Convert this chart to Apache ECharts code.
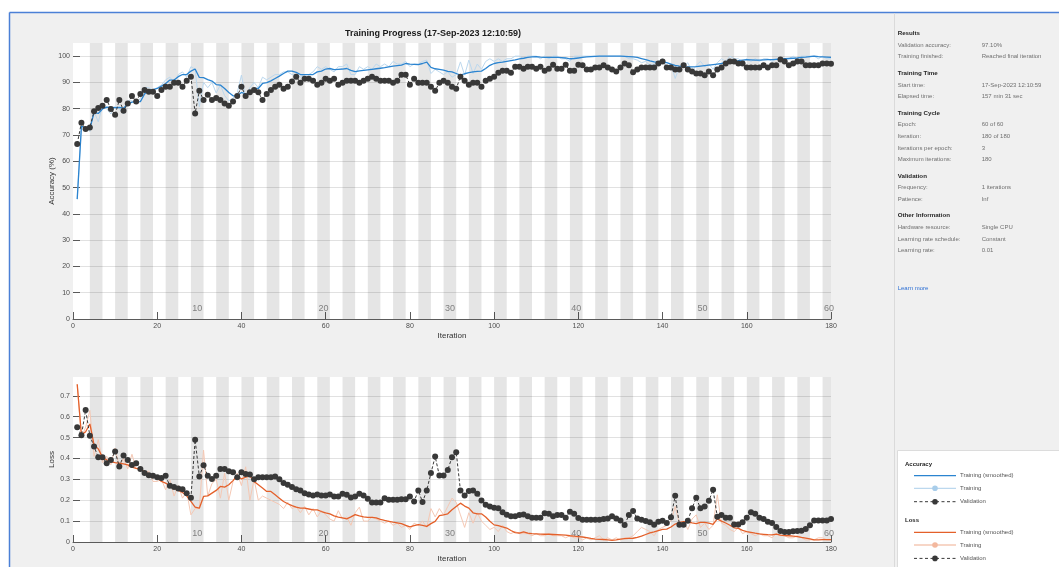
<!DOCTYPE html>
<html>
<head>
<meta charset="utf-8">
<script src="https://cdn.jsdelivr.net/npm/echarts@6/dist/echarts.min.js"></script>
<style>
  html, body { margin: 0; padding: 0; background: #fff; }
  #chart { width: 1059px; height: 567px; }
</style>
</head>
<body>
<div id="chart"></div>
<script>
// ---- training log (one value per iteration, 1..180) ----
const accValidation = [
  66.6,74.7,72.3,72.9,79.0,80.3,81.1,83.3,79.9,77.7,
  83.3,79.2,82.0,84.8,82.7,85.6,87.1,86.5,86.5,84.8,
  87.1,88.4,88.4,89.9,89.9,88.4,90.6,92.2,78.2,86.8,
  83.3,85.3,83.3,84.1,83.3,82.0,81.1,82.7,84.8,88.4,
  84.8,86.3,87.1,86.3,83.3,85.6,87.1,88.4,89.1,87.6,
  88.4,90.4,92.2,89.9,91.4,91.4,90.6,89.1,89.9,91.4,
  90.6,91.4,89.1,89.9,90.6,90.6,90.6,89.9,90.6,91.4,
  92.2,91.4,90.6,90.6,90.6,89.9,90.6,92.9,92.9,89.1,
  91.4,89.9,89.9,89.9,88.4,86.8,89.9,90.6,89.9,88.4,
  87.6,92.2,90.6,89.1,89.9,89.9,88.4,90.6,91.4,92.2,
  93.7,94.4,94.4,93.7,96.0,96.0,95.2,96.0,96.0,95.2,
  96.0,94.4,95.2,96.7,95.2,95.2,96.7,94.4,94.4,96.7,
  96.5,94.9,94.9,95.7,95.7,96.5,95.7,94.9,94.2,95.7,
  97.2,96.5,93.9,94.9,95.7,95.7,95.7,95.7,97.2,98.0,
  95.7,95.7,94.9,94.9,96.5,94.9,94.2,93.4,93.4,92.7,
  94.2,92.7,94.9,95.7,97.2,98.0,98.0,97.2,97.2,95.7,
  95.7,95.7,95.7,96.5,95.7,96.5,96.5,98.7,98.0,96.5,
  97.2,98.0,98.0,96.5,96.5,96.5,96.5,97.2,97.2,97.1
];
const accSmoothed = [
  45.6,73.4,72.5,72.4,78.5,78.2,79.9,80.6,80.5,80.4,
  80.5,80.2,81.8,82.5,82.6,82.7,85.6,87.1,87.3,87.7,
  88.6,89.6,90.9,90.9,92.2,93.0,93.0,94.3,95.1,91.9,
  91.8,91.1,90.5,89.2,89.0,87.7,86.2,84.9,84.9,86.2,
  85.6,86.2,87.7,87.7,89.6,89.9,90.6,91.5,92.4,93.4,
  94.3,94.3,93.8,93.0,93.0,93.0,93.0,94.0,94.3,95.1,
  95.3,94.9,95.0,95.1,95.3,94.6,94.1,94.4,94.6,94.8,
  95.0,95.2,95.4,95.6,95.9,96.2,96.4,96.6,97.2,97.0,
  96.9,96.8,97.2,97.7,95.7,95.2,95.0,94.7,94.2,94.0,
  93.4,92.8,93.3,93.7,94.0,94.2,94.3,95.3,96.5,97.2,
  97.5,97.7,98.0,98.3,98.6,99.0,99.2,99.5,99.7,99.8,
  99.6,99.5,99.5,99.5,99.5,99.4,99.3,99.0,99.1,99.3,
  99.5,99.7,99.8,99.9,100,100,100,100,100,100,
  99.9,99.8,99.7,99.5,99.1,98.7,98.2,97.8,97.6,97.8,
  97.5,97.0,96.5,96.2,96.0,95.9,95.9,96.0,96.2,96.4,
  96.6,96.8,97.0,97.2,97.6,97.9,98.2,98.3,98.5,98.7,
  98.6,98.5,98.5,98.6,98.7,98.7,98.8,98.9,99.0,99.1,
  99.2,99.3,99.5,99.6,99.8,100,99.8,99.7,99.6,99.5
];
const accTraining = [
  45.6,72.0,73.0,71.3,79.0,75.0,81.0,80.0,78.0,81.0,
  80.0,78.0,83.0,83.0,82.0,84.0,88.0,88.0,87.0,88.0,
  89.0,91.0,92.0,90.0,93.0,94.0,92.0,96.0,95.0,80.8,
  90.0,88.0,90.0,86.0,89.0,85.0,83.0,84.0,86.0,92.8,
  84.0,88.0,90.0,88.0,92.0,91.0,92.0,93.0,93.0,94.0,
  94.0,93.0,93.0,92.0,93.0,93.0,94.0,96.0,95.0,96.0,
  95.0,94.0,96.0,96.0,97.0,93.0,93.0,96.0,95.0,96.0,
  95.0,97.0,96.0,97.0,96.0,98.0,97.0,97.0,98.0,96.0,
  97.0,97.0,98.0,98.5,93.4,95.0,94.0,93.0,94.0,92.0,
  93.0,97.8,92.8,98.5,93.4,97.0,95.0,98.0,99.0,98.0,
  99,98,99,99,100,100,99,100,100,100,
  99,100,99,100,100,99,99,98,100,100,
  100,100,100,100,100,100,100,100,100,100,
  100,99,99,98.5,97.5,98,96.5,97,98,99,
  96,97,91.5,96,96,97.5,94,96.5,98,96,
  97,95,97.5,99,98,100,99,99,98,99,
  98,99,98,99,99,98,99,99,99,99,
  100,99,100,100,100,100,99,100,99,99
];
const lossValidation = [
  0.549,0.511,0.632,0.509,0.457,0.406,0.406,0.377,0.393,0.433,
  0.361,0.414,0.393,0.369,0.377,0.349,0.330,0.320,0.317,0.310,
  0.306,0.317,0.269,0.263,0.256,0.253,0.234,0.212,0.489,0.314,
  0.368,0.317,0.302,0.317,0.349,0.350,0.339,0.334,0.310,0.334,
  0.326,0.323,0.301,0.310,0.310,0.310,0.310,0.314,0.301,0.282,
  0.274,0.263,0.253,0.247,0.234,0.228,0.223,0.228,0.223,0.223,
  0.228,0.218,0.218,0.231,0.226,0.213,0.218,0.231,0.223,0.207,
  0.189,0.189,0.189,0.209,0.202,0.202,0.202,0.205,0.205,0.218,
  0.194,0.247,0.191,0.247,0.330,0.409,0.318,0.318,0.345,0.406,
  0.430,0.247,0.223,0.244,0.247,0.231,0.199,0.178,0.170,0.164,
  0.162,0.143,0.131,0.123,0.123,0.129,0.132,0.123,0.116,0.116,
  0.116,0.138,0.135,0.123,0.129,0.129,0.116,0.145,0.135,0.115,
  0.107,0.107,0.107,0.107,0.107,0.110,0.113,0.123,0.113,0.103,
  0.081,0.129,0.148,0.113,0.107,0.100,0.094,0.083,0.097,0.102,
  0.091,0.119,0.221,0.083,0.083,0.102,0.161,0.212,0.161,0.170,
  0.197,0.250,0.121,0.129,0.116,0.116,0.084,0.084,0.094,0.116,
  0.142,0.135,0.116,0.110,0.097,0.091,0.072,0.053,0.048,0.048,
  0.051,0.053,0.054,0.062,0.080,0.103,0.103,0.103,0.103,0.110
];
const lossSmoothed = [
  0.755,0.513,0.528,0.565,0.465,0.446,0.406,0.393,0.385,0.380,
  0.377,0.374,0.369,0.358,0.353,0.349,0.337,0.325,0.317,0.306,
  0.290,0.282,0.269,0.258,0.247,0.237,0.221,0.194,0.167,0.162,
  0.218,0.221,0.234,0.247,0.266,0.263,0.274,0.294,0.317,0.302,
  0.310,0.317,0.290,0.274,0.258,0.242,0.242,0.226,0.210,0.194,
  0.183,0.174,0.167,0.162,0.162,0.158,0.154,0.154,0.146,0.140,
  0.135,0.125,0.119,0.115,0.111,0.120,0.131,0.125,0.120,0.118,
  0.118,0.116,0.108,0.103,0.099,0.095,0.092,0.088,0.080,0.072,
  0.078,0.083,0.080,0.075,0.088,0.099,0.126,0.130,0.135,0.154,
  0.170,0.186,0.172,0.162,0.140,0.135,0.135,0.120,0.099,0.082,
  0.078,0.072,0.067,0.055,0.045,0.043,0.049,0.042,0.040,0.039,
  0.038,0.037,0.037,0.036,0.035,0.034,0.033,0.030,0.028,0.026,
  0.024,0.021,0.017,0.014,0.013,0.012,0.010,0.008,0.010,0.014,
  0.016,0.017,0.018,0.022,0.028,0.036,0.044,0.048,0.055,0.060,
  0.062,0.072,0.086,0.094,0.098,0.097,0.092,0.088,0.094,0.094,
  0.090,0.084,0.111,0.100,0.091,0.080,0.068,0.065,0.056,0.050,
  0.046,0.042,0.039,0.037,0.035,0.034,0.038,0.033,0.031,0.030,
  0.028,0.026,0.022,0.019,0.015,0.010,0.010,0.011,0.011,0.011
];
const lossTraining = [
  0.755,0.50,0.55,0.63,0.41,0.49,0.38,0.41,0.37,0.45,
  0.36,0.40,0.35,0.42,0.35,0.36,0.33,0.34,0.29,0.29,
  0.30,0.25,0.30,0.22,0.27,0.21,0.24,0.13,0.16,0.16,
  0.44,0.22,0.28,0.30,0.21,0.33,0.20,0.29,0.33,0.27,
  0.36,0.20,0.30,0.20,0.22,0.21,0.20,0.19,0.18,0.16,
  0.19,0.16,0.17,0.14,0.17,0.13,0.16,0.12,0.15,0.13,
  0.11,0.10,0.15,0.11,0.12,0.08,0.14,0.167,0.10,0.10,
  0.12,0.11,0.10,0.09,0.10,0.08,0.09,0.07,0.08,0.06,
  0.09,0.08,0.10,0.07,0.16,0.12,0.16,0.13,0.17,0.21,
  0.19,0.13,0.07,0.14,0.09,0.14,0.10,0.08,0.06,0.07,
  0.05,0.08,0.05,0.04,0.05,0.04,0.04,0.04,0.03,0.04,
  0.03,0.03,0.04,0.03,0.03,0.03,0.02,0.03,0.02,0.02,
  0.01,0.02,0.01,0.02,0.03,0.01,0.02,0.01,0.02,0.01,
  0.02,0.02,0.03,0.05,0.07,0.06,0.05,0.03,0.06,0.07,
  0.08,0.10,0.17,0.09,0.10,0.06,0.11,0.13,0.07,0.09,
  0.06,0.08,0.226,0.09,0.08,0.06,0.05,0.07,0.04,0.05,
  0.04,0.03,0.04,0.03,0.03,0.02,0.04,0.03,0.03,0.02,
  0.02,0.03,0.02,0.01,0.01,0.01,0.02,0.02,0.01,0.01
];

// ---- axis ticks and training schedule ----
const accTicks = [0, 10, 20, 30, 40, 50, 60, 70, 80, 90, 100];
const lossTicks = [0, 0.1, 0.2, 0.3, 0.4, 0.5, 0.6, 0.7];
const epochCount = 60;
const iterationsPerEpoch = 3;
const maxIteration = 180;
const epochLabels = [10, 20, 30, 40, 50, 60];

// ---- info panel text ----
const infoSections = [
  { title: 'Results', rows: [
    ['Validation accuracy:', '97.10%'],
    ['Training finished:', 'Reached final iteration']] },
  { title: 'Training Time', rows: [
    ['Start time:', '17-Sep-2023 12:10:59'],
    ['Elapsed time:', '157 min 31 sec']] },
  { title: 'Training Cycle', rows: [
    ['Epoch:', '60 of 60'],
    ['Iteration:', '180 of 180'],
    ['Iterations per epoch:', '3'],
    ['Maximum iterations:', '180']] },
  { title: 'Validation', rows: [
    ['Frequency:', '1 iterations'],
    ['Patience:', 'Inf']] },
  { title: 'Other Information', rows: [
    ['Hardware resource:', 'Single CPU'],
    ['Learning rate schedule:', 'Constant'],
    ['Learning rate:', '0.01']] }
];

const FONT = '"Liberation Sans", Arial, sans-serif';
const BLUE = '#2b84d0', BLUE_LIGHT = '#bcd8ee';
const ORANGE = '#e4602a', ORANGE_LIGHT = '#f5c8b4';
const VAL = '#383838';

const iterations = accValidation.map((_, i) => i + 1);
const pairs = vals => vals.map((v, i) => [iterations[i], v]);

// alternate epochs shaded grey
const epochBands = [];
for (let k = 2; k <= epochCount; k += 2) {
  const start = (k - 1) * iterationsPerEpoch + 1;
  const end = Math.min(k * iterationsPerEpoch + 1, maxIteration);
  epochBands.push([{ xAxis: start }, { xAxis: end }]);
}
const epochCenter = k => (k - 1) * iterationsPerEpoch + 1 + iterationsPerEpoch / 2;

function xAxisCfg(gridIndex) {
  return {
    gridIndex, type: 'value', min: 0, max: maxIteration, interval: 20,
    name: 'Iteration', nameLocation: 'middle', nameGap: 13,
    nameTextStyle: { fontSize: 8, color: '#333', fontFamily: FONT },
    axisLine: { show: true, lineStyle: { color: '#5a5a5a', width: 1 } },
    axisTick: { show: true, inside: true, length: 7, lineStyle: { color: '#5a5a5a' } },
    axisLabel: { fontSize: 7, color: '#4d4d4d', margin: 4, fontFamily: FONT },
    splitLine: { show: false }
  };
}
function yAxisCfg(gridIndex, name, max, ticks) {
  return {
    gridIndex, type: 'value', min: 0, max,
    name, nameLocation: 'middle', nameGap: 17, nameRotate: 90, nameMoveOverlap: false,
    nameTextStyle: { fontSize: 8, color: '#333', fontFamily: FONT },
    axisLine: { show: false },
    axisTick: { show: true, inside: true, length: 7, customValues: ticks,
                lineStyle: { color: '#5a5a5a' } },
    axisLabel: { fontSize: 7, color: '#4d4d4d', margin: 3, fontFamily: FONT,
                 customValues: ticks },
    splitLine: { show: true, lineStyle: { color: '#e1e1e1', width: 1 } }
  };
}

function plotSeries(idx, raw, smooth, val, lightColor, color, labelY) {
  return [
    {
      type: 'line', xAxisIndex: idx, yAxisIndex: idx, z: 1,
      data: pairs(raw), showSymbol: false, symbol: 'none',
      lineStyle: { color: lightColor, width: 1 }, silent: true,
      markArea: { silent: true, itemStyle: { color: 'rgba(0,0,0,0.10)' }, data: epochBands }
    },
    {
      type: 'line', xAxisIndex: idx, yAxisIndex: idx, z: 3,
      data: pairs(smooth), showSymbol: false, symbol: 'none',
      lineStyle: { color, width: 1.3 }, silent: true
    },
    {
      type: 'line', xAxisIndex: idx, yAxisIndex: idx, z: 4,
      data: pairs(val), symbol: 'circle', symbolSize: 6, showSymbol: true,
      itemStyle: { color: VAL }, lineStyle: { color: VAL, width: 1, type: [3, 2] },
      silent: true
    },
    {
      type: 'scatter', xAxisIndex: idx, yAxisIndex: idx, z: 5,
      symbolSize: 1, itemStyle: { color: 'transparent' }, silent: true,
      data: epochLabels.map(k => [epochCenter(k), labelY]),
      label: {
        show: true, position: 'inside', fontSize: 9, color: '#666', fontFamily: FONT,
        formatter: p => String(epochLabels[p.dataIndex])
      }
    }
  ];
}

// ---- graphic: frame, info panel, legend ----
const graphics = [
  { type: 'rect', shape: { x: 0, y: 0, width: 1059, height: 12 }, style: { fill: '#fff' } },
  { type: 'rect', shape: { x: 0, y: 0, width: 9, height: 567 }, style: { fill: '#fff' } },
  { type: 'line', shape: { x1: 9.5, y1: 12.5, x2: 1059, y2: 12.5 }, style: { stroke: '#4b80d6', lineWidth: 1.5 } },
  { type: 'line', shape: { x1: 9.5, y1: 12.5, x2: 9.5, y2: 567 }, style: { stroke: '#4b80d6', lineWidth: 1.5 } },
  { type: 'line', shape: { x1: 894.5, y1: 13, x2: 894.5, y2: 567 }, style: { stroke: '#dadada', lineWidth: 1 } }
];
function text(x, y, str, extra) {
  return Object.assign({ type: 'text', x, y, z: 10,
    style: Object.assign({ text: str, fontSize: 6, fontFamily: FONT, fill: '#707070',
                           verticalAlign: 'middle' }, extra || {}) });
}
(function buildPanel() {
  let y = 33.3;
  infoSections.forEach(sec => {
    graphics.push(text(897.7, y, sec.title, { fontWeight: 'bold', fill: '#262626', fontSize: 6.2 }));
    y += 11.8;
    sec.rows.forEach(r => {
      graphics.push(text(897.7, y, r[0]));
      graphics.push(text(981.7, y, r[1]));
      y += 11.6;
    });
    y += 4.8;
  });
  graphics.push(text(897.7, 288.7, 'Learn more', { fill: '#2d6fd4' }));
})();
(function buildLegend() {
  graphics.push({ type: 'rect', z: 9, shape: { x: 897.5, y: 450.5, width: 162, height: 117 },
                  style: { fill: '#fff', stroke: '#dcdcdc', lineWidth: 1 } });
  const groups = [
    { title: 'Accuracy', y: 464, color: BLUE, light: BLUE_LIGHT, lightDot: '#a8cdea' },
    { title: 'Loss', y: 520.7, color: ORANGE, light: ORANGE_LIGHT, lightDot: '#f3b89e' }
  ];
  groups.forEach(g => {
    graphics.push(text(905, g.y, g.title, { fontWeight: 'bold', fill: '#262626' }));
    const rows = [
      { dy: 11.7, label: 'Training (smoothed)', stroke: g.color, dash: null, dot: null },
      { dy: 24.3, label: 'Training', stroke: g.light, dash: null, dot: g.lightDot },
      { dy: 37.7, label: 'Validation', stroke: VAL, dash: [3, 2.5], dot: VAL }
    ];
    rows.forEach(r => {
      const yy = g.y + r.dy;
      graphics.push({ type: 'line', z: 10, shape: { x1: 914, y1: yy, x2: 956, y2: yy },
        style: { stroke: r.stroke, lineWidth: r.dash ? 1 : 1.3, lineDash: r.dash } });
      if (r.dot) graphics.push({ type: 'circle', z: 11, shape: { cx: 935, cy: yy, r: 2.8 }, style: { fill: r.dot } });
      graphics.push(text(960, yy, r.label, { fill: '#555' }));
    });
  });
})();

const chart = echarts.init(document.getElementById('chart'), null, { renderer: 'canvas' });
chart.setOption({
  animation: false,
  backgroundColor: '#f0f0f0',
  title: {
    text: 'Training Progress (17-Sep-2023 12:10:59)',
    left: 428, top: 24, textAlign: 'center',
    textStyle: { fontSize: 9, fontWeight: 'bold', color: '#1a1a1a', fontFamily: FONT }
  },
  grid: [
    { left: 73, width: 758, top: 43, height: 276, show: true, backgroundColor: '#fff', borderWidth: 0 },
    { left: 73, width: 758, top: 377, height: 165, show: true, backgroundColor: '#fff', borderWidth: 0 }
  ],
  xAxis: [xAxisCfg(0), xAxisCfg(1)],
  yAxis: [yAxisCfg(0, 'Accuracy (%)', 105, accTicks), yAxisCfg(1, 'Loss', 0.79, lossTicks)],
  series: [
    ...plotSeries(0, accTraining, accSmoothed, accValidation, BLUE_LIGHT, BLUE, 4),
    ...plotSeries(1, lossTraining, lossSmoothed, lossValidation, ORANGE_LIGHT, ORANGE, 0.04)
  ],
  graphic: graphics
});
</script>
</body>
</html>
